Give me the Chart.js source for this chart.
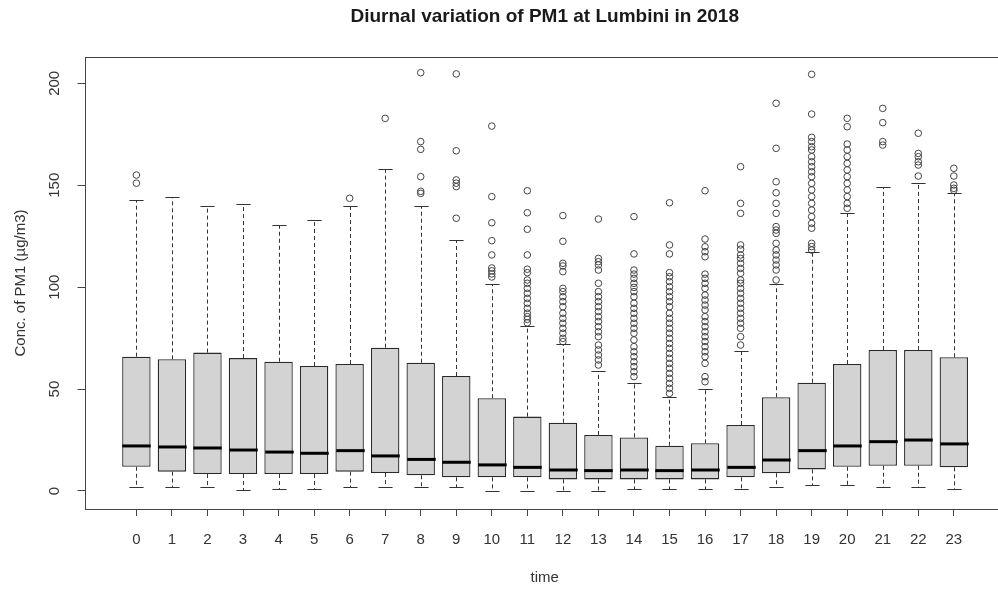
<!DOCTYPE html>
<html><head><meta charset="utf-8">
<script src="https://cdn.jsdelivr.net/npm/chart.js@4"></script>
<style>
html,body{margin:0;padding:0;background:#fff;overflow:hidden;width:998px;height:589px}
#wrap{position:absolute;left:0;top:0;width:1010px;height:589px}
</style>
</head><body><div id="wrap"><canvas id="c" width="1010" height="589"></canvas></div>
<script>
const hours = [0,1,2,3,4,5,6,7,8,9,10,11,12,13,14,15,16,17,18,19,20,21,22,23];
const tickLabels = hours.map(String);
const yTicks = [0,50,100,150,200];
const loW = [1.8,2.1,1.8,0.5,0.8,0.8,1.8,2.1,1.8,2.1,0.2,0.2,0.2,0.2,0.8,0.8,0.8,0.8,2.1,2.9,2.9,2.1,2.1,0.8];
const q1  = [11.9,9.5,8.3,8.3,8.3,8.3,9.5,8.8,7.7,6.7,6.7,6.7,5.7,5.7,5.7,5.7,5.7,6.7,8.7,10.6,11.9,12.4,12.4,11.6];
const med = [22.1,21.6,21.1,20.1,19.1,18.5,19.8,17.2,15.5,14.1,12.8,11.6,10.3,10.0,10.3,10.0,10.3,11.6,15.2,19.8,22.1,24.2,25.0,23.1];
const q3  = [65.9,64.6,67.9,65.2,63.4,61.3,62.3,70.3,62.9,56.4,45.5,36.5,33.5,27.5,26.3,22.2,23.4,32.4,46.0,53.1,62.3,69.2,69.2,65.6];
const hiW = [142.7,144.1,140.0,140.8,130.5,132.9,140.0,157.8,140.0,123.1,101.4,80.9,72.0,59.0,53.1,46.3,50.0,68.7,101.5,117.4,136.2,149.3,151.2,146.0];
const outliers = [
  [155,151],
  [],[],[],[],[],
  [143.6],
  [182.8],
  [205.2,171.4,167.6,154.2,147,146],
  [204.6,166.9,152.6,151,149.3,133.8],
  [179,144.4,131.6,122.8,115.8,109.4,108,106.5,105],
  [147.3,136.5,128.4,115.8,108.8,107.1,103.5,101.9,99.4,97,94.5,92.1,89.6,87.2,85.5,84.2,82.5],
  [135.1,122.5,111.7,110.4,107.6,99.4,97.8,95.3,92.9,90.4,87.2,84.7,82.3,79.8,77.4,74.9,73.3],
  [133.4,114.1,112.5,110.9,108.4,101.9,97.8,95.3,92.9,90.4,88.0,85.5,83.1,80.6,78.1,75.7,71.6,69.2,66.7,64.3,61.8],
  [134.6,116.3,108.4,106.4,104.3,101.9,99.9,97.8,95.3,92.1,89.6,87.2,84.7,82.3,79.8,77.4,74.1,70.8,68.3,65.9,63.4,61.0,58.5,56.1],
  [141.4,120.7,116.3,107.1,105.1,102.7,100.2,97.8,95.3,92.9,90.4,87.2,84.7,82.3,79.8,77.4,74.9,72.4,70.0,67.5,65.1,62.6,60.2,57.7,55.3,52.8,50.4,47.9],
  [147.3,123.6,119.8,117.4,114.9,106.4,104.3,101.9,99.4,96.1,93.7,91.2,88.8,85.5,83.1,80.6,78.1,75.7,73.3,70.8,68.3,65.9,62.6,56.1,53.6],
  [159.1,141.1,136.2,120.7,118.6,115.8,114.1,111.7,109.2,106.8,103.5,101.9,99.4,97.0,94.5,92.1,89.6,87.2,84.7,82.3,79.8,75.7,71.6],
  [190.2,168.1,151.7,146.3,141.1,136.2,129.7,128.0,126.4,121.5,118.2,115.8,113.3,110.9,108.4,103.5],
  [204.4,184.9,173.5,171.4,168.9,167.3,164.0,161.5,159.1,156.6,154.2,150.9,147.7,144.4,141.1,137.8,134.6,131.3,128.9,121.5,119.9,118.2],
  [182.8,178.7,170.2,167.3,164.0,160.7,157.5,154.2,150.9,147.7,144.4,141.1,138.7],
  [187.7,180.7,171.4,169.7],
  [175.5,165.6,164.0,161.5,159.9,154.5],
  [158.3,154.5,150.1,148.5,147.5]
];

const FONT = "'Liberation Sans', Arial, Helvetica, sans-serif";
const boxData = hours.map((h,i)=>({x:h, y:[q1[i], q3[i]]}));
const outPts = [];
outliers.forEach((arr,i)=>arr.forEach(v=>outPts.push({x:hours[i], y:v})));

const boxParts = {
  id:'boxParts',
  afterDatasetsDraw(chart){
    const {ctx, scales:{x,y}} = chart;
    const meta = chart.getDatasetMeta(1);
    ctx.save();
    hours.forEach((h,i)=>{
      const bar = meta.data[i];
      const cx = Math.round(x.getPixelForValue(h)) + 0.5;
      const half = bar.width/2;
      const st = half/2;
      const yq1 = y.getPixelForValue(q1[i]), yq3 = y.getPixelForValue(q3[i]);
      const ylo = Math.round(y.getPixelForValue(loW[i]))+0.5, yhi = Math.round(y.getPixelForValue(hiW[i]))+0.5;
      ctx.strokeStyle = '#333'; ctx.lineWidth = 1;
      ctx.setLineDash([4,3]);
      ctx.beginPath();
      ctx.moveTo(cx, yq3); ctx.lineTo(cx, yhi);
      ctx.moveTo(cx, yq1); ctx.lineTo(cx, ylo);
      ctx.stroke();
      ctx.setLineDash([]);
      ctx.beginPath();
      ctx.moveTo(cx-st, yhi); ctx.lineTo(cx+st, yhi);
      ctx.moveTo(cx-st, ylo); ctx.lineTo(cx+st, ylo);
      ctx.stroke();
      const ym = y.getPixelForValue(med[i]);
      ctx.strokeStyle = '#000'; ctx.lineWidth = 3;
      ctx.beginPath(); ctx.moveTo(cx-half, ym); ctx.lineTo(cx+half, ym); ctx.stroke();
    });
    ctx.restore();
  },
  afterDraw(chart){
    const {ctx, chartArea:a, scales:{y}} = chart;
    ctx.save();
    ctx.strokeStyle = '#444'; ctx.lineWidth = 1;
    const l = Math.round(a.left)+0.5, t = Math.round(a.top)+0.5, b = Math.round(a.bottom)+0.5, r = Math.round(a.right)+0.5;
    ctx.strokeRect(l, t, r-l, b-t);
    ctx.fillStyle = '#333';
    ctx.font = '15px ' + FONT;
    ctx.textAlign = 'center'; ctx.textBaseline = 'middle';
    yTicks.forEach(v=>{
      const py = y.getPixelForValue(v);
      ctx.save(); ctx.translate(55, py); ctx.rotate(-Math.PI/2);
      ctx.fillText(String(v), 0, 0); ctx.restore();
    });
    ctx.restore();
  }
};

new Chart(document.getElementById('c'), {
  type: 'bar',
  data: {
    datasets: [
      { type:'scatter', data: outPts, pointStyle:'circle', pointRadius:3.3, pointBorderColor:'#444',
        pointBackgroundColor:'rgba(0,0,0,0)', pointBorderWidth:1, showLine:false, order:0 },
      { type:'bar', data: boxData, backgroundColor:'#d3d3d3', borderColor:'#2a2a2a', borderWidth:1.3,
        borderSkipped:false, barPercentage:0.8, categoryPercentage:1, grouped:false, order:1 }
    ]
  },
  options: {
    responsive:false, animation:false, events:[],
    layout:{ padding:{ right:2 } },
    plugins:{
      legend:{display:false}, tooltip:{enabled:false},
      title:{ display:true, fullSize:false, text:'Diurnal variation of PM1 at Lumbini in 2018',
        color:'#1a1a1a', font:{family:FONT, size:19, weight:'bold'}, padding:{top:5.6, bottom:28.6} }
    },
    scales:{
      x:{ type:'linear', min:-1.46, max:24.44, offset:false,
        afterBuildTicks: s => { s.ticks = hours.map(v=>({value:v})); },
        ticks:{ autoSkip:false, maxRotation:0, minRotation:0, color:'#333', padding:15,
          font:{family:FONT, size:15}, callback:(v,i)=>tickLabels[i] },
        grid:{ offset:false, drawOnChartArea:false, drawTicks:true, tickLength:7, color:'#444' },
        border:{ display:false },
        title:{ display:true, text:'time', color:'#333', font:{family:FONT, size:15}, padding:{top:0,bottom:2} },
        afterFit: s => { s.height = 80; }
      },
      y:{ type:'linear', min:-8.83, max:212.9,
        afterBuildTicks: s => { s.ticks = yTicks.map(v=>({value:v})); },
        ticks:{ display:false },
        grid:{ drawOnChartArea:false, drawTicks:true, tickLength:7, color:'#444' },
        border:{ display:false },
        title:{ display:true, text:'Conc. of PM1 (µg/m3)', color:'#333', font:{family:FONT, size:15}, padding:{top:12,bottom:0} },
        afterFit: s => { s.width = 84.5; }
      }
    }
  },
  plugins:[boxParts]
});
</script>
</body></html>
